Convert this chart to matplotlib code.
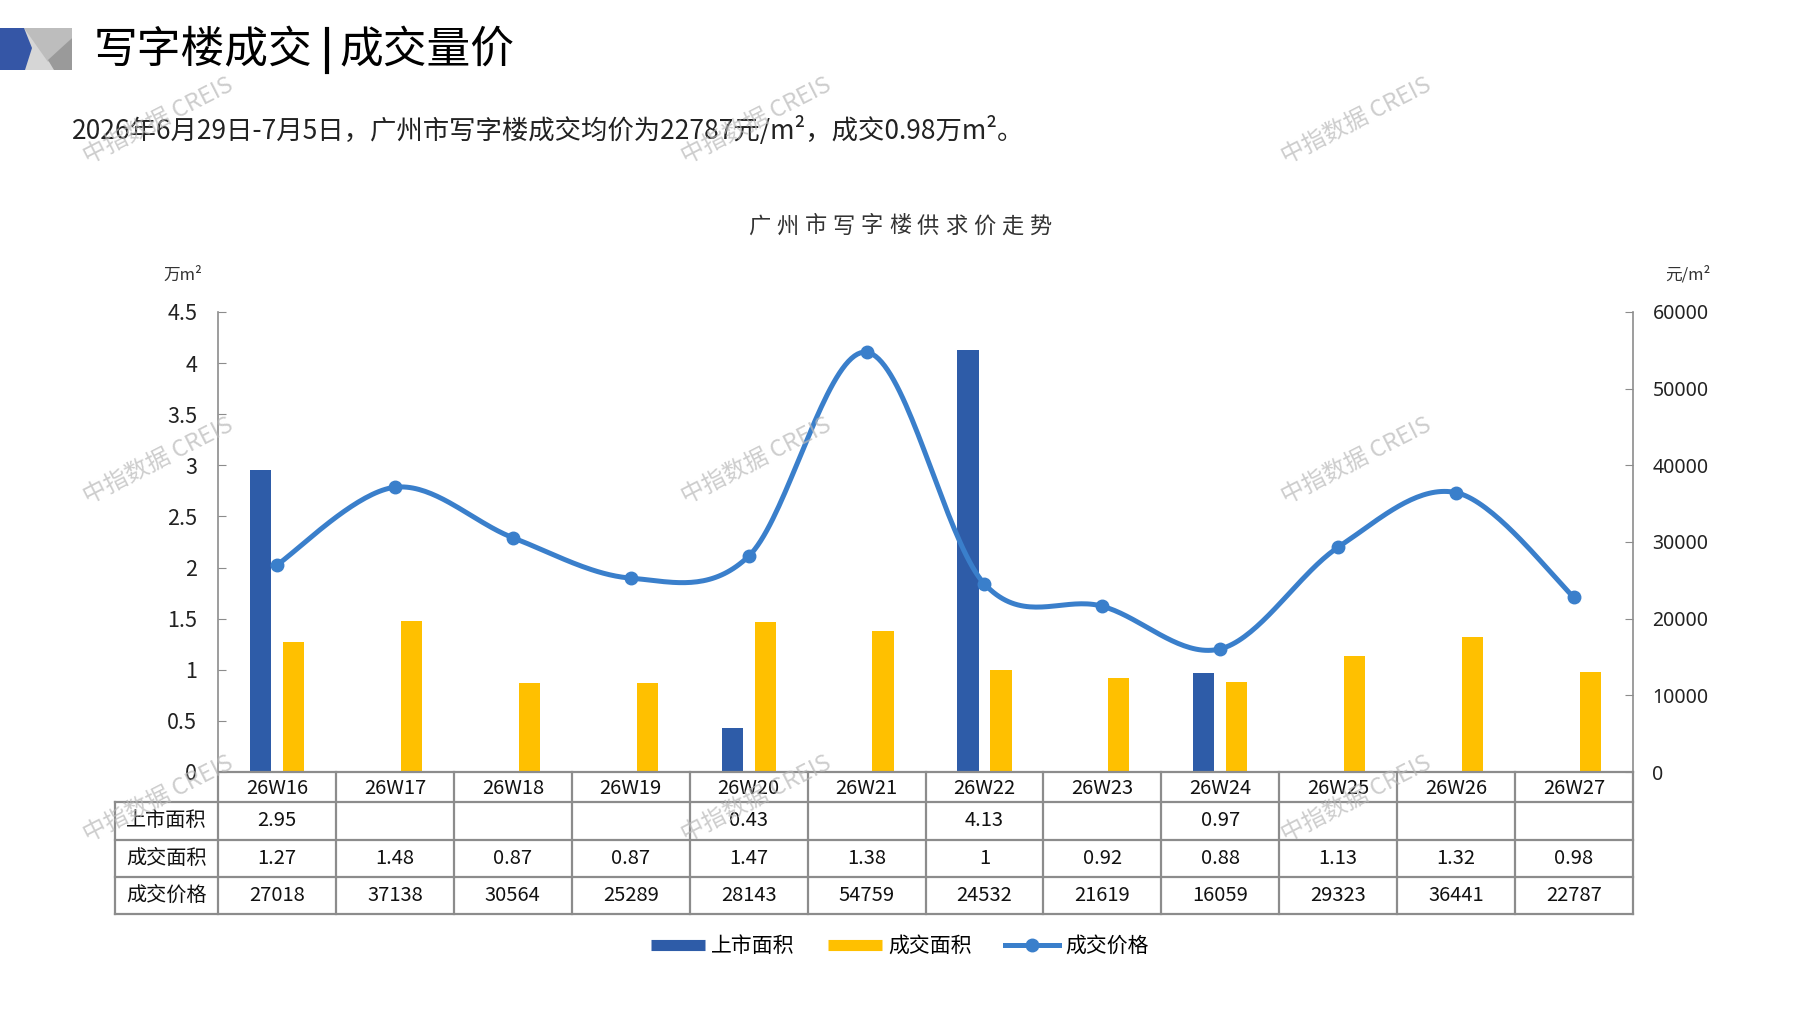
import matplotlib.pyplot as plt
import matplotlib.transforms as mtransforms
import numpy as np
from matplotlib.lines import Line2D
from matplotlib.patches import Polygon

plt.rcParams['font.family'] = ['Noto Sans CJK SC', 'DejaVu Sans']

# Data
weeks = ['26W16', '26W17', '26W18', '26W19', '26W20', '26W21',
         '26W22', '26W23', '26W24', '26W25', '26W26', '26W27']
listed_area = [2.95, None, None, None, 0.43, None, 4.13, None, 0.97, None, None, None]
deal_area = [1.27, 1.48, 0.87, 0.87, 1.47, 1.38, 1, 0.92, 0.88, 1.13, 1.32, 0.98]
deal_price = [27018, 37138, 30564, 25289, 28143, 54759, 24532, 21619, 16059, 29323, 36441, 22787]
row_labels = ['上市面积', '成交面积', '成交价格']

BLUE = '#2E5CA8'
YELLOW = '#FFC000'
LINE = '#3A7FCB'
GRID = '#8C8C8C'

W, H = 1797, 1010
fig = plt.figure(figsize=(W / 100, H / 100), dpi=100)


def fx(x):
    return x / W


def fy(y):
    return 1 - y / H


# header logo
fig.patches.append(Polygon([(fx(0), fy(28)), (fx(72), fy(28)), (fx(72), fy(70)), (fx(0), fy(70))],
                           closed=True, transform=fig.transFigure, fc='#d6d6d6', ec='none'))
fig.patches.append(Polygon([(fx(24), fy(28)), (fx(72), fy(28)), (fx(72), fy(38)), (fx(48), fy(62))],
                           closed=True, transform=fig.transFigure, fc='#bdbdbd', ec='none'))
fig.patches.append(Polygon([(fx(72), fy(38)), (fx(72), fy(70)), (fx(54), fy(70)), (fx(48), fy(60))],
                           closed=True, transform=fig.transFigure, fc='#9a9a9a', ec='none'))
fig.patches.append(Polygon([(fx(0), fy(28)), (fx(24), fy(28)), (fx(32), fy(48)), (fx(25), fy(70)), (fx(0), fy(70))],
                           closed=True, transform=fig.transFigure, fc='#3556A6', ec='none'))

# title
fig.text(fx(94), fy(50), '写字楼成交', fontsize=31.5, va='center', ha='left', color='black')
fig.add_artist(Line2D([fx(327), fx(327)], [fy(29), fy(72)], color='black', lw=3,
                      transform=fig.transFigure))
fig.text(fx(339), fy(50), '成交量价', fontsize=31.5, va='center', ha='left', color='black')

fig.text(fx(72), fy(130), '2026年6月29日-7月5日，广州市写字楼成交均价为22787元/m²，成交0.98万m²。',
         fontsize=19, va='center', ha='left', color='#222222')

# chart title, spaced characters
chart_title = '广州市写字楼供求价走势'
step = 28.1
start = 900 - step * (len(chart_title) - 1) / 2
for i, ch in enumerate(chart_title):
    fig.text(fx(start + i * step), fy(226), ch, fontsize=16, ha='center', va='center', color='#333333')

fig.text(fx(183), fy(275), '万m²', fontsize=12, ha='center', va='center', color='#333333')
fig.text(fx(1688), fy(275), '元/m²', fontsize=12, ha='center', va='center', color='#333333')

# main axes
ax = fig.add_axes([fx(218), fy(772), (1633 - 218) / W, (772 - 312) / H])
ax2 = ax.twinx()
x = np.arange(len(weeks))

lx = [i for i, v in enumerate(listed_area) if v is not None]
lv = [v for v in listed_area if v is not None]
ax.bar(np.array(lx) - 0.14, lv, width=0.18, color=BLUE, zorder=2)
ax.bar(x + 0.14, deal_area, width=0.18, color=YELLOW, zorder=2)

ax.set_xlim(-0.5, len(weeks) - 0.5)
ax.set_ylim(0, 4.5)
ax.set_xticks([])
ax.set_yticks(np.arange(0, 4.51, 0.5))
ax.set_yticklabels([f'{v:g}' for v in np.arange(0, 4.51, 0.5)])
ax.tick_params(axis='y', direction='in', length=6, color=GRID, labelsize=15.5, pad=15, labelcolor='#222222')
for s in ['top', 'bottom', 'right']:
    ax.spines[s].set_visible(False)
ax.spines['left'].set_color(GRID)
ax.spines['left'].set_linewidth(1.2)


# smoothed price line (Excel-like Bezier through points)
def smooth(xs, ys, n=40):
    xs = np.asarray(xs, float)
    ys = np.asarray(ys, float)
    px = np.concatenate([[xs[0]], xs, [xs[-1]]])
    py = np.concatenate([[ys[0]], ys, [ys[-1]]])
    t = np.linspace(0, 1, n)
    ox, oy = [], []
    for i in range(1, len(px) - 2):
        b0x, b0y = px[i], py[i]
        b3x, b3y = px[i + 1], py[i + 1]
        b1x, b1y = b0x + (px[i + 1] - px[i - 1]) / 6, b0y + (py[i + 1] - py[i - 1]) / 6
        b2x, b2y = b3x - (px[i + 2] - px[i]) / 6, b3y - (py[i + 2] - py[i]) / 6
        mt = 1 - t
        ox.append(mt ** 3 * b0x + 3 * mt ** 2 * t * b1x + 3 * mt * t ** 2 * b2x + t ** 3 * b3x)
        oy.append(mt ** 3 * b0y + 3 * mt ** 2 * t * b1y + 3 * mt * t ** 2 * b2y + t ** 3 * b3y)
    return np.concatenate(ox), np.concatenate(oy)


sx, sy = smooth(x, deal_price)
ax2.plot(sx, sy, color=LINE, lw=3.6, solid_capstyle='round', zorder=3)
ax2.plot(x, deal_price, 'o', color=LINE, ms=9, zorder=4)
ax2.set_ylim(0, 60000)
ax2.set_yticks(np.arange(0, 60001, 10000))
ax2.tick_params(axis='y', direction='in', length=6, color=GRID, labelsize=14, pad=14, labelcolor='#222222')
for lab in ax2.get_yticklabels():
    lab.set_family(['Noto Sans', 'DejaVu Sans'])
for s in ['top', 'bottom', 'left']:
    ax2.spines[s].set_visible(False)
ax2.spines['right'].set_color(GRID)
ax2.spines['right'].set_linewidth(1.2)

# table below the axis
trans = mtransforms.blended_transform_factory(ax.transData, ax.transAxes)


def ay(py):
    return (772 - py) / 460


x_lab = -0.5 - 103 / (1415 / 12)
x_end = len(weeks) - 0.5
row_edges = [772, 802, 840, 877, 914]
line_kw = dict(color=GRID, lw=1.6, transform=trans, clip_on=False)
ax.add_line(Line2D([-0.5, x_end], [ay(772), ay(772)], **line_kw))
for py in row_edges[1:]:
    ax.add_line(Line2D([x_lab, x_end], [ay(py), ay(py)], **line_kw))
for k in range(len(weeks) + 1):
    ax.add_line(Line2D([k - 0.5, k - 0.5], [ay(772), ay(914)], **line_kw))
ax.add_line(Line2D([x_lab, x_lab], [ay(802), ay(914)], **line_kw))

txt_kw = dict(transform=trans, ha='center', va='center', fontsize=14.5, color='#111111', clip_on=False)
for i, w in enumerate(weeks):
    ax.text(i, ay(788), w, **txt_kw)
rows = [[('' if v is None else f'{v:g}') for v in listed_area],
        [f'{v:g}' for v in deal_area],
        [str(v) for v in deal_price]]
for r, (label, vals) in enumerate(zip(row_labels, rows)):
    yc = ay((row_edges[r + 1] + row_edges[r + 2]) / 2)
    ax.text((x_lab - 0.5) / 2, yc, label, **txt_kw)
    for i, v in enumerate(vals):
        ax.text(i, yc, v, **txt_kw)

# legend
handles = [Line2D([], [], color=BLUE, lw=8, solid_capstyle='butt'),
           Line2D([], [], color=YELLOW, lw=8, solid_capstyle='butt'),
           Line2D([], [], color=LINE, lw=3.6, marker='o', ms=9)]
fig.legend(handles, ['上市面积', '成交面积', '成交价格'], loc='center', bbox_to_anchor=(fx(900), fy(946)),
           ncol=3, frameon=False, fontsize=15, handlelength=2.6, handletextpad=0.3, columnspacing=1.6)

# watermarks
for wx in [158, 756, 1356]:
    for wy in [121, 461, 799]:
        fig.text(fx(wx), fy(wy), '中指数据 CREIS', fontsize=17, rotation=27, ha='center', va='center',
                 color='#b8b8b8', alpha=0.7, zorder=10)

fig.savefig('out.png', dpi=100, facecolor='white')
